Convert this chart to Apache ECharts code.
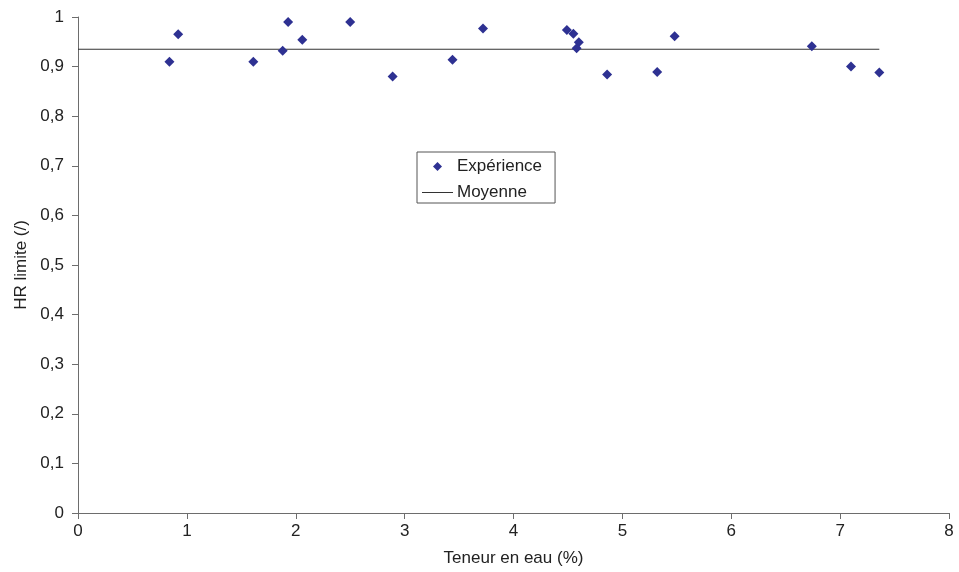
<!DOCTYPE html>
<html>
<head>
<meta charset="utf-8">
<script src="https://cdn.jsdelivr.net/npm/echarts@6/dist/echarts.min.js"></script>
<style>html,body{margin:0;padding:0;background:#fff}#c{width:959px;height:572px}</style>
</head>
<body>
<div id="c"></div>
<script>
const teneur = [0.84, 0.92, 1.61, 1.88, 1.93, 2.06, 2.50, 2.89, 3.44, 3.72, 4.49, 4.55, 4.60, 4.58, 4.86, 5.32, 5.48, 6.74, 7.10, 7.36];
const hrLimite = [0.910, 0.965, 0.910, 0.932, 0.990, 0.954, 0.990, 0.880, 0.914, 0.977, 0.974, 0.966, 0.949, 0.937, 0.884, 0.889, 0.961, 0.941, 0.900, 0.888];
const moyenneX = [0, 7.36];
const moyenneY = [0.935, 0.935];
const xTicks = [0, 8, 1];
const yTicks = [0, 1, 0.1];

const font = 'Liberation Sans, Arial, sans-serif';
const txt = '#222';
const axisCol = '#6d6d6d';
const fs = 17;

const chart = echarts.init(document.getElementById('c'), null, {renderer: 'canvas'});
chart.setOption({
  animation: false,
  grid: {left: 78, right: 10, top: 17, bottom: 57},
  legend: {
    left: 417, top: 152,
    orient: 'vertical',
    backgroundColor: '#fff',
    borderColor: '#555', borderWidth: 1, borderRadius: 0,
    padding: [6, 13, 2, 5],
    itemWidth: 31, itemHeight: 9, itemGap: 9,
    symbolKeepAspect: true,
    textStyle: {fontFamily: font, fontSize: fs, color: txt, padding: [0, 0, 0, -1]},
    data: [
      {name: 'Expérience', icon: 'path://M5,0 L10,5 L5,10 L0,5 Z', itemStyle: {color: '#2E3192', opacity: 1}},
      {name: 'Moyenne', icon: 'path://M0,0 L62,0 L62,2 L0,2 Z', itemStyle: {color: '#333'}}
    ]
  },
  xAxis: {
    type: 'value', min: xTicks[0], max: xTicks[1], interval: xTicks[2],
    name: 'Teneur en eau (%)', nameLocation: 'middle', nameGap: 37,
    nameTextStyle: {fontFamily: font, fontSize: fs, color: txt},
    axisLine: {show: true, lineStyle: {color: axisCol, width: 1}},
    axisTick: {show: true, length: 6, lineStyle: {color: axisCol}},
    axisLabel: {fontFamily: font, fontSize: fs, color: txt, margin: 10},
    splitLine: {show: false}
  },
  yAxis: {
    type: 'value', min: yTicks[0], max: yTicks[1], interval: yTicks[2],
    name: 'HR limite (/)', nameLocation: 'middle', nameGap: 46, nameRotate: 90,
    nameTextStyle: {fontFamily: font, fontSize: fs, color: txt},
    axisLine: {show: true, lineStyle: {color: axisCol, width: 1}},
    axisTick: {show: true, length: 6, lineStyle: {color: axisCol}},
    axisLabel: {fontFamily: font, fontSize: fs, color: txt, margin: 14,
      formatter: v => (Math.round(v * 10) / 10).toString().replace('.', ',')},
    splitLine: {show: false}
  },
  series: [
    {
      name: 'Expérience', type: 'scatter',
      symbol: 'diamond', symbolSize: 10,
      itemStyle: {color: '#2E3192', opacity: 1},
      data: teneur.map((x, i) => [x, hrLimite[i]]),
      z: 3
    },
    {
      name: 'Moyenne', type: 'line',
      symbol: 'none',
      lineStyle: {color: '#333', width: 1.2},
      itemStyle: {color: '#333'},
      data: moyenneX.map((x, i) => [x, moyenneY[i]]),
      z: 2
    }
  ]
});
</script>
</body>
</html>
